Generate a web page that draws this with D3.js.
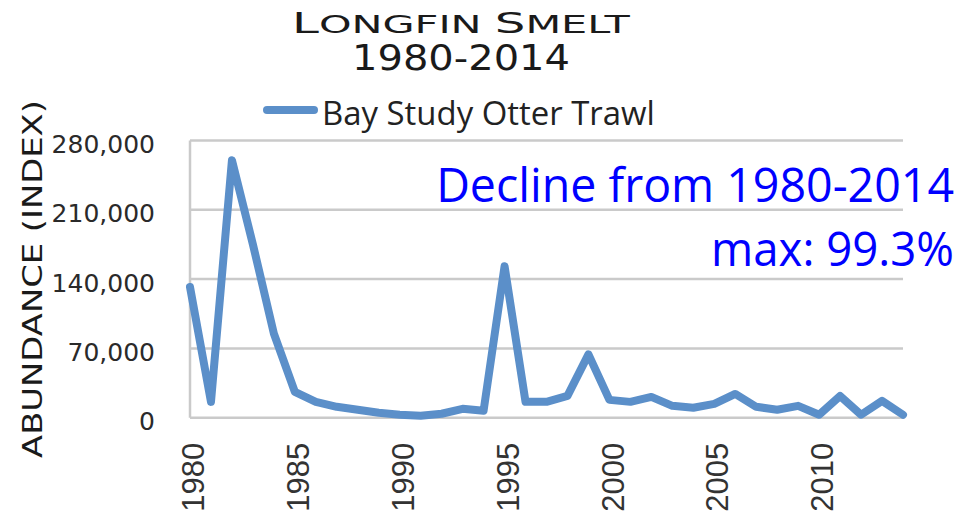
<!DOCTYPE html>
<html>
<head>
<meta charset="utf-8">
<script src="https://cdn.jsdelivr.net/npm/d3@7"></script>
<style>
  body { margin: 0; background: #ffffff; }
  #diagram svg { display: block; }
</style>
</head>
<body>
<div id="diagram"></div>
<script>
// Chart data
var years = [
  1980, 1981, 1982, 1983, 1984, 1985, 1986, 1987, 1988, 1989, 1990, 1991,
  1992, 1993, 1994, 1995, 1996, 1997, 1998, 1999, 2000, 2001, 2002, 2003,
  2004, 2005, 2006, 2007, 2008, 2009, 2010, 2011, 2012, 2013, 2014
];
var abundance = [
  132000, 16000, 260000, 175000, 85000, 26000, 16000, 11000, 8000, 5000, 3000,
  2000, 4000, 9000, 7000, 153000, 16000, 16000, 22000, 64000, 18000, 16000,
  21000, 12000, 10000, 14000, 24000, 11000, 8000, 12000, 3000, 22000, 3000,
  17000, 3000
];
var yTicks = [0, 70000, 140000, 210000, 280000];
var xTicks = [1980, 1985, 1990, 1995, 2000, 2005, 2010];
var seriesName = 'Bay Study Otter Trawl';
var titleLine2 = '1980-2014';
var noteLines = ['Decline from 1980-2014', 'max: 99.3%'];

// Stretch a text element along its own x direction to a given width
function fitWidth(sel, width, anchorX) {
  var len = sel.node().getComputedTextLength();
  var k = width / len;
  sel.attr(
    'transform',
    `translate(${anchorX},0) scale(${k},1) translate(${-anchorX},0)`
  );
}

function init() {
  // SVG
  var w = 965;
  var h = 515;
  var left = 190;
  var right = 903;
  var top = 140.5;
  var bottom = 417.7;
  var lineColor = '#5b8fc9';
  var gridColor = '#cacaca';

  var svg = d3
    .select('#diagram')
    .append('svg')
    .attr('width', w)
    .attr('height', h);

  // Scales
  var xScale = d3
    .scaleLinear()
    .domain([years[0], years[years.length - 1]])
    .range([left, right]);

  var yScale = d3.scaleLinear().domain([0, 280000]).range([bottom, top]);

  // Gridlines
  svg
    .append('g')
    .selectAll('line')
    .data(yTicks)
    .enter()
    .append('line')
    .attr('x1', left)
    .attr('x2', right)
    .attr('y1', (d) => yScale(d))
    .attr('y2', (d) => yScale(d))
    .attr('stroke', gridColor)
    .attr('stroke-width', 2.5);

  // Left frame line
  svg
    .append('line')
    .attr('x1', left)
    .attr('x2', left)
    .attr('y1', yScale(280000))
    .attr('y2', yScale(0))
    .attr('stroke', gridColor)
    .attr('stroke-width', 2.5);

  // Y-axis labels
  var yAxis = d3
    .axisLeft(yScale)
    .tickValues(yTicks)
    .tickSize(0)
    .tickPadding(35)
    .tickFormat(d3.format(','));

  var gy = svg
    .append('g')
    .attr('transform', `translate(${left}, 0)`)
    .call(yAxis);
  gy.select('.domain').remove();
  gy.selectAll('text')
    .attr('dy', '0.32em')
    .attr('y', 4)
    .style('font-family', 'DejaVu Sans')
    .style('font-size', '25px')
    .style('fill', '#2a2a2a');

  // X-axis labels (rotated)
  var xAxis = d3
    .axisBottom(xScale)
    .tickValues(xTicks)
    .tickSize(0)
    .tickFormat(d3.format('d'));

  var gx = svg
    .append('g')
    .attr('transform', `translate(0, ${bottom})`)
    .call(xAxis);
  gx.select('.domain').remove();
  gx.selectAll('text')
    .attr('transform', 'rotate(-90)')
    .attr('text-anchor', 'end')
    .attr('x', -25)
    .attr('y', 0)
    .attr('dy', '0.44em')
    .style('font-family', 'Liberation Sans')
    .style('font-size', '31px')
    .style('fill', '#333333');

  // Series line
  var points = years.map((y, i) => [y, abundance[i]]);
  var line = d3
    .line()
    .x((d) => xScale(d[0]))
    .y((d) => yScale(d[1]));

  svg
    .append('path')
    .datum(points)
    .attr('d', line)
    .attr('fill', 'none')
    .attr('stroke', lineColor)
    .attr('stroke-width', 8)
    .attr('stroke-linejoin', 'round')
    .attr('stroke-linecap', 'round');

  // Title line 1 - small caps
  var title = svg
    .append('text')
    .attr('x', 461)
    .attr('y', 33)
    .attr('text-anchor', 'middle')
    .style('font-family', 'DejaVu Sans')
    .style('fill', '#1a1a1a');
  title.append('tspan').style('font-size', '28px').text('L');
  title.append('tspan').style('font-size', '24px').text('ONGFIN ');
  title.append('tspan').style('font-size', '28px').text('S');
  title.append('tspan').style('font-size', '24px').text('MELT');
  fitWidth(title, 338, 461);

  // Title line 2
  var title2 = svg
    .append('text')
    .attr('x', 461)
    .attr('y', 70)
    .attr('text-anchor', 'middle')
    .style('font-family', 'DejaVu Sans')
    .style('font-size', '35px')
    .style('fill', '#1a1a1a')
    .text(titleLine2);
  fitWidth(title2, 218, 461);

  // Y-axis title
  var yTitleGroup = svg
    .append('g')
    .attr('transform', 'translate(42, 279) rotate(-90)');
  var yTitle = yTitleGroup
    .append('text')
    .attr('x', 0)
    .attr('y', 0)
    .attr('text-anchor', 'middle')
    .style('font-family', 'DejaVu Sans')
    .style('font-size', '26px')
    .style('fill', '#1a1a1a')
    .text('ABUNDANCE (INDEX)');
  fitWidth(yTitle, 358, 0);

  // Legend
  svg
    .append('line')
    .attr('x1', 267)
    .attr('x2', 314)
    .attr('y1', 110)
    .attr('y2', 110)
    .attr('stroke', lineColor)
    .attr('stroke-width', 8)
    .attr('stroke-linecap', 'round');

  var legendText = svg
    .append('text')
    .attr('x', 322)
    .attr('y', 125)
    .style('font-family', 'Open Sans')
    .style('font-size', '32px')
    .style('fill', '#222222')
    .text(seriesName);
  fitWidth(legendText, 333, 322);

  // Annotation
  var noteY = [202, 266];
  var noteWidth = [518, 243];
  noteLines.forEach((t, i) => {
    var note = svg
      .append('text')
      .attr('x', 954)
      .attr('y', noteY[i])
      .attr('text-anchor', 'end')
      .style('font-family', 'Open Sans')
      .style('font-size', '47px')
      .style('fill', '#0000ff')
      .text(t);
    fitWidth(note, noteWidth[i], 954);
  });
}

window.onload = init;
</script>
</body>
</html>
